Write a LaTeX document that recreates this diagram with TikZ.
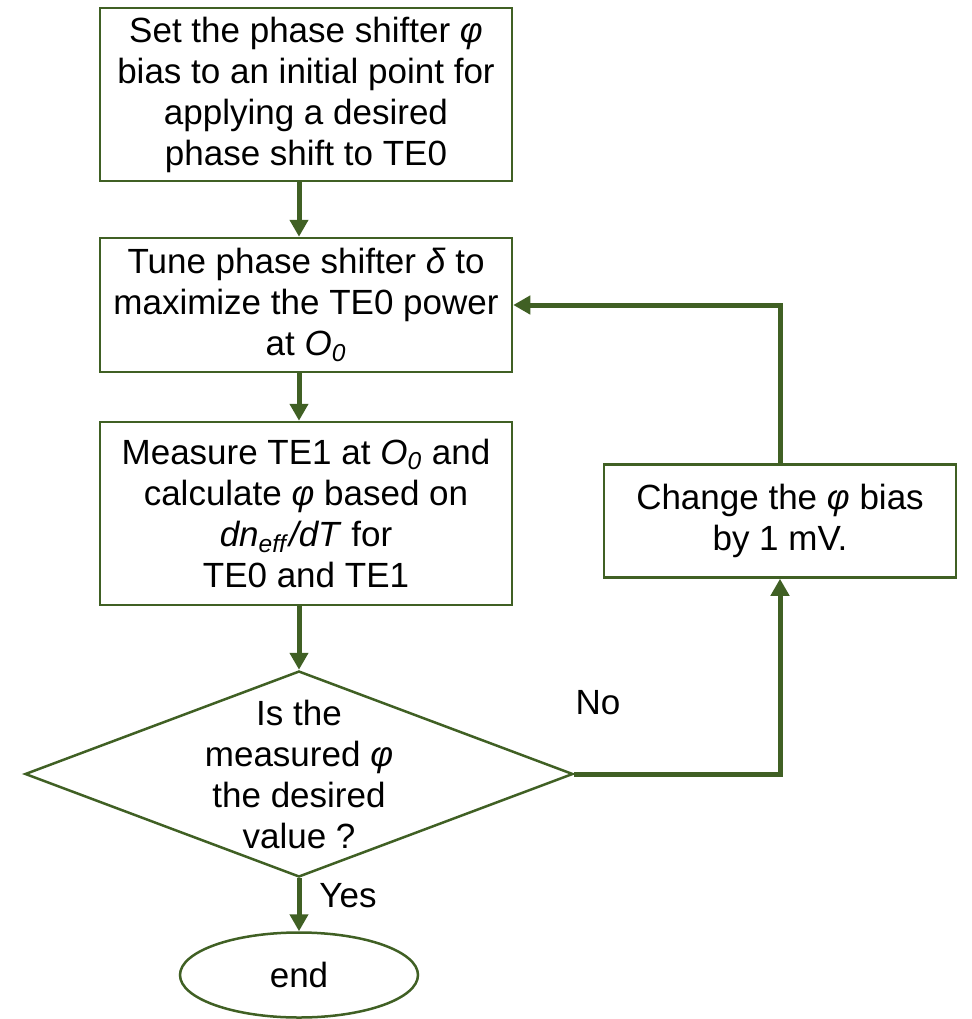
\documentclass[tikz,border=0pt]{standalone}
\usepackage{fontspec}
\setmainfont{Liberation Sans}
\usepackage{xcolor}
\definecolor{flowGreen}{RGB}{64,96,36}
\usetikzlibrary{arrows.meta, positioning, shapes, calc}

\begin{document}
\begin{tikzpicture}[x=0.5pt, y=-0.5pt,
    stepbox/.style={draw=flowGreen, line width=1.25pt, fill=white,
                minimum width=206pt, align=center, inner sep=2pt,
                font=\fontsize{17.5}{20.5}\selectfont},
    decide/.style={draw=flowGreen, line width=1.25pt, diamond, shape aspect=2.66,
                inner xsep=0pt, inner ysep=-5pt,
                minimum width=274pt, minimum height=103pt, align=center,
                font=\fontsize{17.5}{20.5}\selectfont},
    flow/.style={draw=flowGreen, line width=2.5pt,
                -{Triangle[width=9pt,length=8.5pt]}},
    lbl/.style={font=\fontsize{17.5}{20.5}\selectfont}
  ]
    \useasboundingbox (0,0) rectangle (971,1019);

    \node[stepbox, minimum height=86.5pt] (set) at (306,94.5) {
      Set the phase shifter \textit{φ}\\
      bias to an initial point for\\
      applying a desired\\
      phase shift to TE0
    };
    \node[stepbox, minimum height=67pt] (tune) at (306,305) {
      Tune phase shifter \textit{δ} to\\
      maximize the TE0 power\\
      at \textit{O}\textsubscript{\textit{0}}
    };
    \node[stepbox, minimum height=91.5pt] (meas) at (306,513.5) {
      Measure TE1 at \textit{O}\textsubscript{\textit{0}} and\\
      calculate \textit{φ} based on\\
      \textit{dn}\textsubscript{\textit{eff}}\textit{/dT} for\\
      TE0 and TE1
    };
    \node[decide] (check) at (299,774) {
      Is the\\
      measured \textit{φ}\\
      the desired\\
      value ?
    };
    \node[stepbox, minimum width=176pt, minimum height=56.5pt] (chg) at (780,521) {
      Change the \textit{φ} bias\\
      by 1 mV.
    };
    \node[draw=flowGreen, line width=1.25pt, ellipse, minimum width=119pt,
          minimum height=42.5pt, lbl] (done) at (299,975) {end};

    \node[lbl] (no) at (598,703) {No};
    \node[lbl] (yes) at (348,896) {Yes};

    \draw[flow] (set.south -| check) -- (tune.north -| check);
    \draw[flow] (tune.south -| check) -- (meas.north -| check);
    \draw[flow] (meas.south -| check) -- (check.north);
    \draw[flow] (check.south) -- (done.north);
    \draw[flow] (check.east) -| (chg.south);
    \draw[flow] (chg.north) |- (tune.east);
  \end{tikzpicture}
\end{document}
